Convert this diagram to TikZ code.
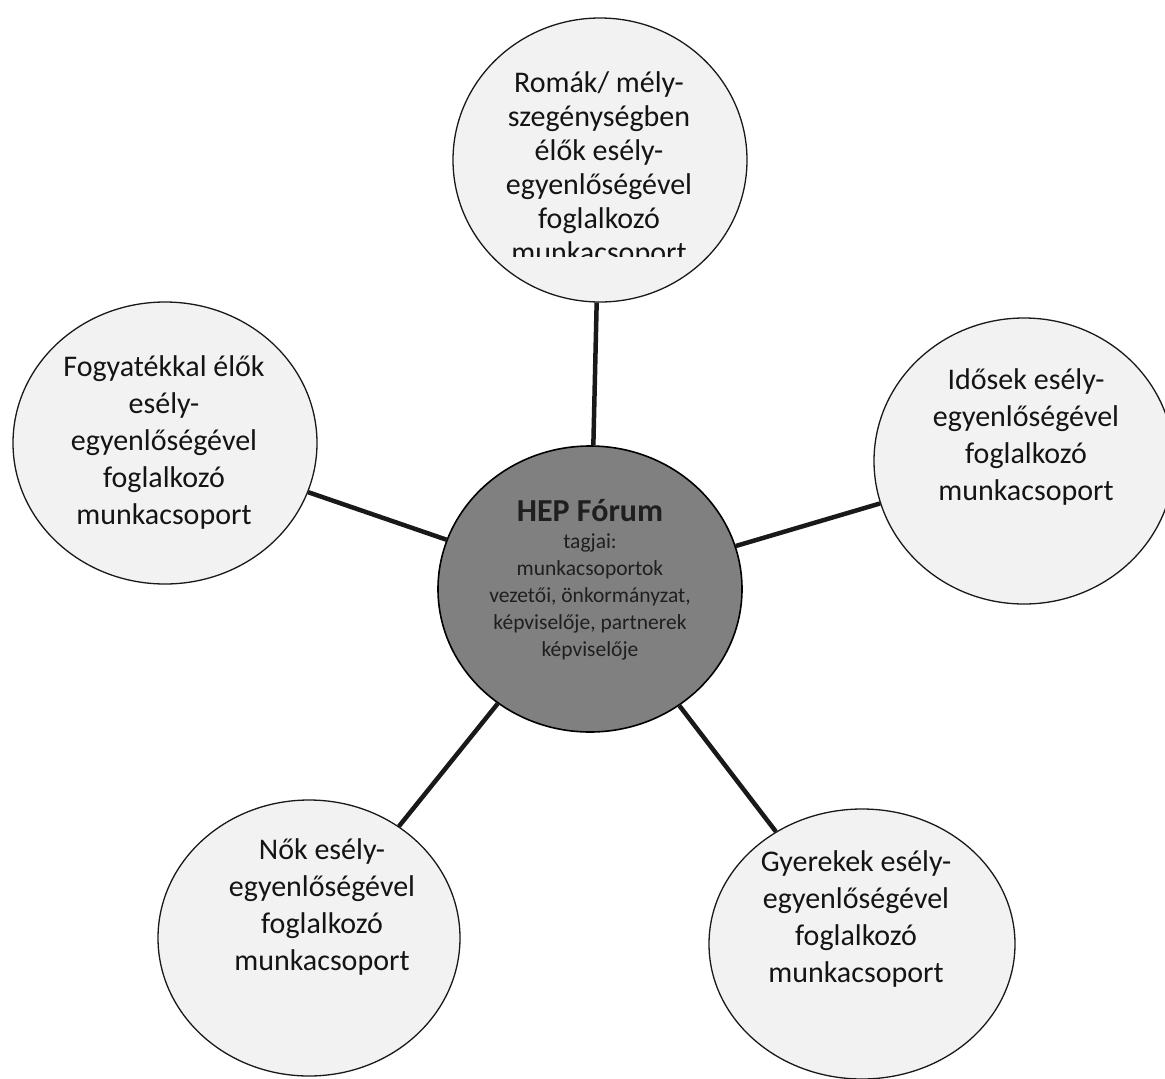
\documentclass[tikz,border=0pt]{standalone}
\usepackage{fontspec}
\setmainfont{Carlito}
\usetikzlibrary{shapes.geometric}
\begin{document}
\begin{tikzpicture}[x=1pt,y=-1pt,
  outer/.style={ellipse,draw=black!90,line width=1.3pt,fill=black!5,inner sep=0pt},
  hub/.style={ellipse,draw=black,line width=1.6pt,fill=black!50,minimum width=304pt,minimum height=286pt,inner sep=0pt},
  lbl/.style={align=center,font=\fontsize{30}{37}\selectfont,text=black!92},
  link/.style={line width=4.5pt,draw=black!90}]
\useasboundingbox (0,0) rectangle (1165,1079);
% circles
\node[outer,minimum width=294pt,minimum height=284pt] (top) at (600,160) {};
\node[outer,minimum width=304pt,minimum height=282pt] (left) at (165,443) {};
\node[outer,minimum width=300pt,minimum height=286pt] (right) at (1024,461) {};
\node[outer,minimum width=302pt,minimum height=276pt] (bl) at (309,938) {};
\node[outer,minimum width=306pt,minimum height=270pt] (br) at (862,944) {};
\node[hub] (hub) at (590,589) {};
% connectors
\draw[link] (top) -- (hub);
\draw[link] (left) -- (hub);
\draw[link] (right) -- (hub);
\draw[link] (bl) -- (hub);
\draw[link] (br) -- (hub);
% texts
\begin{scope}
\clip (450,20) rectangle (750,256);
\node[lbl,font=\fontsize{30}{34}\selectfont] (ttop) at (599,169) {Romák/ mély-\\szegénységben\\élők esély-\\egyenlőségével\\foglalkozó\\munkacsoport};
\end{scope}
\node[lbl] (tleft) at (164,442) {Fogyatékkal élők\\esély-\\egyenlőségével\\foglalkozó\\munkacsoport};
\node[lbl] (tright) at (1026,437) {Idősek esély-\\egyenlőségével\\foglalkozó\\munkacsoport};
\node[lbl] (tbl) at (322,907) {Nők esély-\\egyenlőségével\\foglalkozó\\munkacsoport};
\node[lbl] (tbr) at (856,919) {Gyerekek esély-\\egyenlőségével\\foglalkozó\\munkacsoport};
\node[align=center,text=black!88,font=\fontsize{21.5}{27}\selectfont] (thub) at (590,580)
  {\fontsize{32}{34}\selectfont\bfseries HEP Fórum\\tagjai:\\munkacsoportok\\vezetői, önkormányzat,\\képviselője, partnerek\\képviselője};
\end{tikzpicture}
\end{document}
